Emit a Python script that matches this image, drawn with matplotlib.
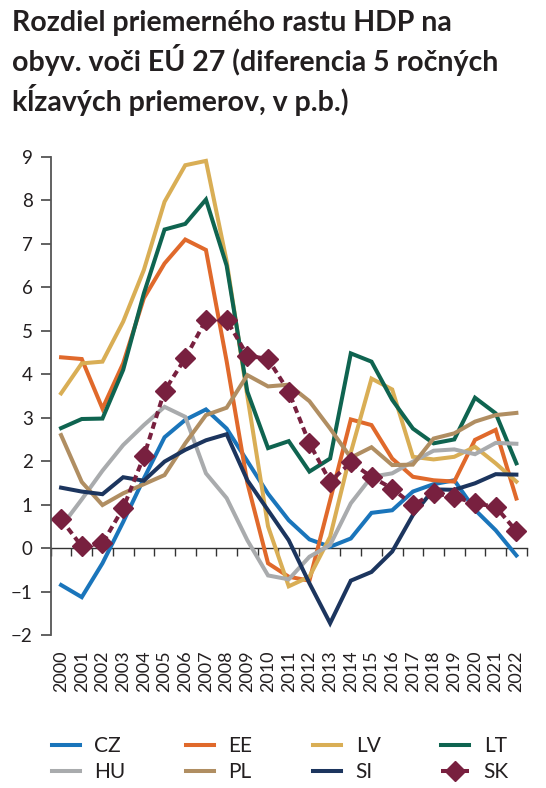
import matplotlib
matplotlib.use('Agg')
import matplotlib.pyplot as plt

plt.rcParams['font.family'] = ['Lato', 'DejaVu Sans']

years = ['2000', '2001', '2002', '2003', '2004', '2005', '2006', '2007', '2008', '2009', '2010', '2011',
         '2012', '2013', '2014', '2015', '2016', '2017', '2018', '2019', '2020', '2021', '2022']

CZ = [-0.85, -1.13, -0.35, 0.6, 1.6, 2.55, 2.95, 3.19, 2.75, 2.0, 1.25, 0.64,
      0.2, 0.03, 0.22, 0.81, 0.87, 1.3, 1.47, 1.56, 0.88, 0.41, -0.17]
EE = [4.39, 4.35, 3.21, 4.25, 5.75, 6.55, 7.1, 6.86, 4.3, 1.5, -0.35, -0.66,
      -0.75, 1.1, 2.96, 2.83, 2.06, 1.64, 1.56, 1.53, 2.49, 2.72, 1.14]
LV = [3.56, 4.25, 4.29, 5.21, 6.4, 7.97, 8.81, 8.91, 6.6, 3.5, 0.5, -0.88,
      -0.66, 0.26, 2.2, 3.9, 3.65, 2.1, 2.04, 2.1, 2.33, 1.95, 1.53]
LT = [2.76, 2.97, 2.98, 4.1, 5.86, 7.33, 7.46, 8.02, 6.5, 3.6, 2.3, 2.46,
      1.76, 2.06, 4.48, 4.29, 3.41, 2.75, 2.41, 2.5, 3.46, 3.1, 1.95]
HU = [0.49, 1.12, 1.78, 2.37, 2.83, 3.25, 3.02, 1.72, 1.15, 0.18, -0.63, -0.72,
      -0.2, 0.07, 1.03, 1.64, 1.72, 1.99, 2.24, 2.27, 2.16, 2.42, 2.4]
PL = [2.6, 1.52, 0.99, 1.26, 1.47, 1.68, 2.41, 3.06, 3.23, 3.98, 3.72, 3.76,
      3.38, 2.75, 2.08, 2.32, 1.91, 1.92, 2.52, 2.64, 2.91, 3.06, 3.11]
SI = [1.39, 1.3, 1.24, 1.63, 1.55, 1.99, 2.26, 2.48, 2.62, 1.56, 0.87, 0.18,
      -0.81, -1.73, -0.75, -0.55, -0.08, 0.76, 1.35, 1.34, 1.49, 1.7, 1.69]
SK = [0.66, 0.04, 0.11, 0.92, 2.11, 3.62, 4.37, 5.25, 5.25, 4.43, 4.35, 3.6,
      2.41, 1.53, 1.97, 1.64, 1.37, 0.99, 1.26, 1.18, 1.03, 0.95, 0.39]

series = [('CZ', CZ, '#1a75bb'), ('EE', EE, '#e0692b'), ('LV', LV, '#d9ae55'),
          ('LT', LT, '#0f6450'), ('HU', HU, '#a9abad'), ('PL', PL, '#b08e62'),
          ('SI', SI, '#1c355e')]

txt = '#231f20'
x = list(range(len(years)))

fig = plt.figure(figsize=(5.46, 7.88), dpi=100)
ax = fig.add_axes([0.0929, 0.1942, 0.8718, 0.6066])

handles = {}
for name, vals, col in series:
    h, = ax.plot(x, vals, color=col, lw=2.9, solid_joinstyle='miter', label=name)
    handles[name] = h
h, = ax.plot(x, SK, color='#78203f', lw=2.9, ls=(0, (1.7, 1.1)), marker='D',
             markersize=10, label='SK')
handles['SK'] = h

ax.set_xlim(-0.5, len(years) - 0.5)
ax.set_ylim(-2, 9)
ax.set_yticks(range(-2, 10))
ax.set_xticks(x)
ax.set_xticklabels(years, rotation=90)

for s in ['top', 'right', 'bottom']:
    ax.spines[s].set_visible(False)
ax.spines['left'].set_color('#555555')
ax.spines['left'].set_linewidth(1.3)
ax.tick_params(axis='y', direction='out', length=7, width=1.3, color='#555555',
               pad=6, labelsize=13.5, labelcolor=txt)
ax.tick_params(axis='x', length=0, pad=11, labelsize=13, labelcolor=txt)

# zero line with category boundary ticks
sec = ax.secondary_xaxis(0, transform=ax.transData)
sec.set_xticks([i - 0.5 for i in range(len(years) + 1)])
sec.set_xticklabels([])
sec.spines['bottom'].set_color('#333333')
sec.spines['bottom'].set_linewidth(1.0)
sec.tick_params(direction='out', length=6, width=1.0, color='#333333')

order = ['CZ', 'HU', 'EE', 'PL', 'LV', 'SI', 'LT', 'SK']
fig.legend([handles[k] for k in order], order, ncol=4, loc='upper left',
           bbox_to_anchor=(0.06, 0.09), frameon=False, fontsize=15,
           handlelength=1.35, handletextpad=0.7, columnspacing=2.9,
           labelspacing=0.3, labelcolor=txt)

fig.text(0.022, 0.987, 'Rozdiel priemerného rastu HDP na\nobyv. voči EÚ 27 (diferencia 5 ročných\nkĺzavých priemerov, v p.b.)',
         ha='left', va='top', fontsize=20.5, fontweight='bold', color=txt, linespacing=1.3)

fig.savefig('out.png', dpi=100)
